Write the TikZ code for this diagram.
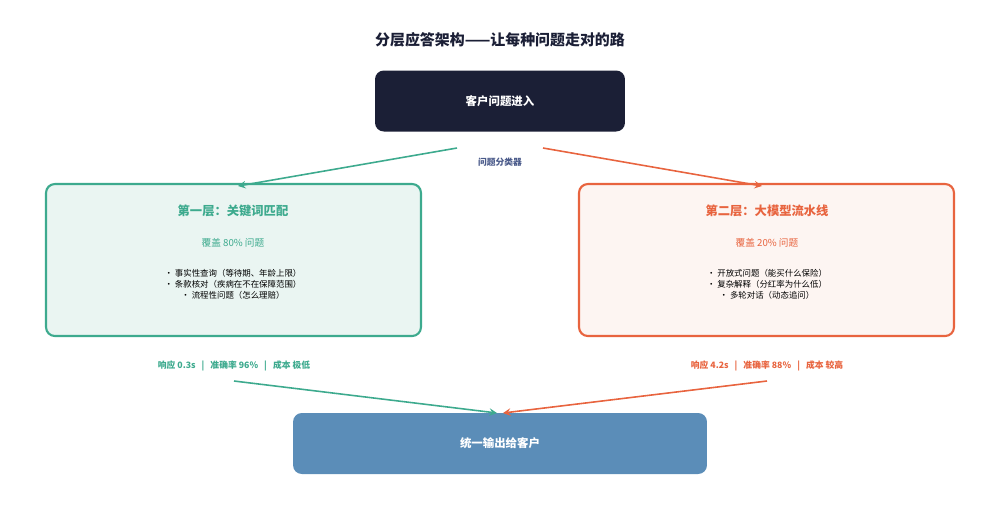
\documentclass[tikz,border=0pt]{standalone}
\usepackage{fontspec}
\setmainfont{Noto Sans CJK SC}
\usetikzlibrary{positioning}
\definecolor{navy}{HTML}{1B1F36}
\definecolor{teal}{HTML}{3DAA8E}
\definecolor{tealbg}{HTML}{EAF5F2}
\definecolor{coral}{HTML}{E8643F}
\definecolor{coralbg}{HTML}{FDF5F2}
\definecolor{steel}{HTML}{5B8DB8}
\definecolor{slate}{HTML}{4A5A8A}
\tikzset{
  >=stealth,
  box/.style = {rounded corners=5pt, minimum height=1.22cm},
  layer/.style = {box, line width=1.2pt, minimum width=7.5cm, minimum height=3.04cm},
  flow/.style = {->, line width=0.9pt},
}
\begin{document}
\begin{tikzpicture}[x=0.02cm, y=-0.02cm]
    \useasboundingbox (0,0) rectangle (1000,505);
    \node [font=\bfseries\fontsize{8.5}{10}\selectfont, text=navy] (title) at (500,40) {分层应答架构——让每种问题走对的路};
    \node [box, fill=navy, text=white, minimum width=5cm, font=\bfseries\fontsize{6.5}{8}\selectfont] (input) at (500,101) {客户问题进入};
    \node [font=\bfseries\fontsize{5}{6}\selectfont, text=slate] (cls) at (500,162) {问题分类器};
    \node [layer, draw=teal, fill=tealbg] (kw) at (233.5,260) {};
    \node [layer, draw=coral, fill=coralbg] (llm) at (766.5,260) {};
    \node [font=\bfseries\fontsize{7}{8}\selectfont, text=teal] (kwt) at (233,211) {第一层：关键词匹配};
    \node [font=\fontsize{5.5}{7}\selectfont, text=teal] (kwc) at (233,243) {覆盖 80\% 问题};
    \node [font=\fontsize{4.8}{6.2}\selectfont, align=center] (kwl) at (233,284)
      {· 事实性查询（等待期、年龄上限）\\· 条款核对（疾病在不在保障范围）\\· 流程性问题（怎么理赔）};
    \node [font=\bfseries\fontsize{7}{8}\selectfont, text=coral] (llmt) at (767,211) {第二层：大模型流水线};
    \node [font=\fontsize{5.5}{7}\selectfont, text=coral] (llmc) at (767,243) {覆盖 20\% 问题};
    \node [font=\fontsize{4.8}{6.2}\selectfont, align=center] (llml) at (767,284)
      {· 开放式问题（能买什么保险）\\· 复杂解释（分红率为什么低）\\· 多轮对话（动态追问）};
    \node [font=\bfseries\fontsize{5}{6}\selectfont, text=teal] (kwm) at (234,366) {响应 0.3s \ \ | \ \ 准确率 96\% \ \ | \ \ 成本 极低};
    \node [font=\bfseries\fontsize{5}{6}\selectfont, text=coral] (llmm) at (767,366) {响应 4.2s \ \ | \ \ 准确率 88\% \ \ | \ \ 成本 较高};
    \node [box, fill=steel, text=white, minimum width=8.28cm, font=\bfseries\fontsize{6.5}{8}\selectfont] (out) at (500,443.5) {统一输出给客户};
    \coordinate (ina) at (457,148);
    \coordinate (inb) at (543,148);
    \coordinate (kwin) at (238,186);
    \coordinate (llmin) at (762,186);
    \coordinate (kwo) at (234,381);
    \coordinate (llmo) at (767,381);
    \coordinate (outa) at (497,413);
    \coordinate (outb) at (503,413);
    \draw [flow, teal] (ina) -- (kwin);
    \draw [flow, coral] (inb) -- (llmin);
    \draw [flow, teal] (kwo) -- (outa);
    \draw [flow, coral] (llmo) -- (outb);
\end{tikzpicture}
\end{document}
